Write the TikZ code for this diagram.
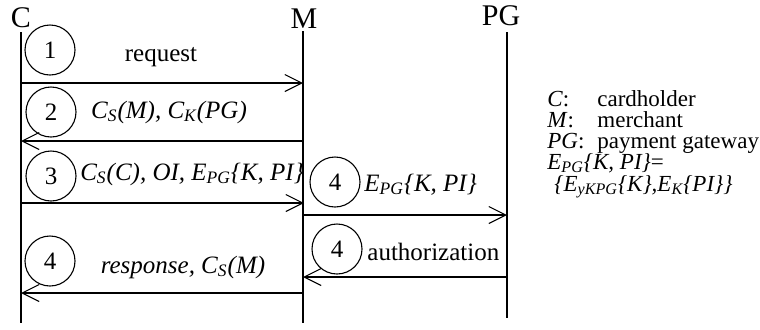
\documentclass[tikz,border=0pt]{standalone}
\usepackage{fontspec}
\setmainfont{Liberation Serif}
\usetikzlibrary{arrows.meta}
\newcommand{\sbs}[1]{\textsubscript{\itshape #1}}
\tikzset{
  life/.style={line width=0.65pt},
  msg/.style={line width=0.55pt, -{Straight Barb[length=8.5pt,width=8.5pt,line width=0.55pt]}},
  stepnum/.style={circle, draw, line width=0.55pt, minimum size=25pt, inner sep=0pt, font=\fontsize{12.5}{15}\selectfont},
  lbl/.style={inner sep=0pt, font=\fontsize{12.5}{15}\selectfont},
  head/.style={inner sep=0pt, font=\fontsize{15}{18}\selectfont},
  leg/.style={inner sep=0pt, anchor=base west, font=\fontsize{11.5}{14}\selectfont}
}
\begin{document}
\begin{tikzpicture}[x=0.5pt, y=-0.5pt]
\useasboundingbox (0,0) rectangle (760,329);
% headers
\node[head, anchor=base] (hC) at (21,27) {C};
\node[head, anchor=base] (hM) at (304,28) {M};
\node[head, anchor=base] (hPG) at (501,25) {PG};
% lifeline ends
\coordinate (Ct) at (21,32);  \coordinate (Cb) at (21,323);
\coordinate (Mt) at (303,31); \coordinate (Mb) at (303,323);
\coordinate (Pt) at (507,32); \coordinate (Pb) at (507,318);
\draw[life] (Ct) -- (Cb);
\draw[life] (Mt) -- (Mb);
\draw[life] (Pt) -- (Pb);
% message endpoints
\coordinate (c1) at (21,83);   \coordinate (m1) at (303,83);
\coordinate (m2) at (303,141); \coordinate (c2) at (21,141);
\coordinate (c3) at (21,203);  \coordinate (m3) at (304,203);
\coordinate (m4) at (303,215); \coordinate (p4) at (507,215);
\coordinate (p5) at (507,277); \coordinate (m5) at (303,277);
\coordinate (m6) at (303,293); \coordinate (c6) at (21,293);
\draw[msg] (c1) -- (m1);
\draw[msg] (m2) -- (c2);
\draw[msg] (c3) -- (m3);
\draw[msg] (m4) -- (p4);
\draw[msg] (p5) -- (m5);
\draw[msg] (m6) -- (c6);
% step circles
\node[stepnum] (s1) at (50,50) {1};
\node[stepnum] (s2) at (51,112) {2};
\node[stepnum] (s3) at (51,176) {3};
\node[stepnum] (s4a) at (335,182) {4};
\node[stepnum] (s4b) at (337,249) {4};
\node[stepnum] (s4c) at (50,261) {4};
% message labels
\node[lbl, anchor=base] (t1) at (161,61) {request};
\node[lbl, anchor=base] (t2) at (169,118) {\itshape C\sbs{S}(M), C\sbs{K}(PG)};
\node[lbl, anchor=base] (t3) at (192,180) {\itshape C\sbs{S}(C), OI, E\sbs{PG}\{K, PI\}};
\node[lbl, anchor=base west] (t4) at (364,191) {\itshape E\sbs{PG}\{K, PI\}};
\node[lbl, anchor=base west] (t5) at (367,260) {authorization};
\node[lbl, anchor=base] (t6) at (183,273) {\itshape response, C\sbs{S}(M)};
% legend
\node[leg] (k1) at (547,106) {\textit{C}:};
\node[leg] (v1) at (597,106) {cardholder};
\node[leg] (k2) at (547,127) {\textit{M}:};
\node[leg] (v2) at (597,127) {merchant};
\node[leg] (k3) at (547,148) {\textit{PG}:};
\node[leg] (v3) at (597,148) {payment gateway};
\node[leg] (k4) at (547,169) {\itshape E\sbs{PG}\{K, PI\}\upshape =};
\node[leg] (k5) at (554,191) {\itshape \{E\sbs{yKPG}\{K\},E\sbs{K}\{PI\}\}};
\end{tikzpicture}
\end{document}
